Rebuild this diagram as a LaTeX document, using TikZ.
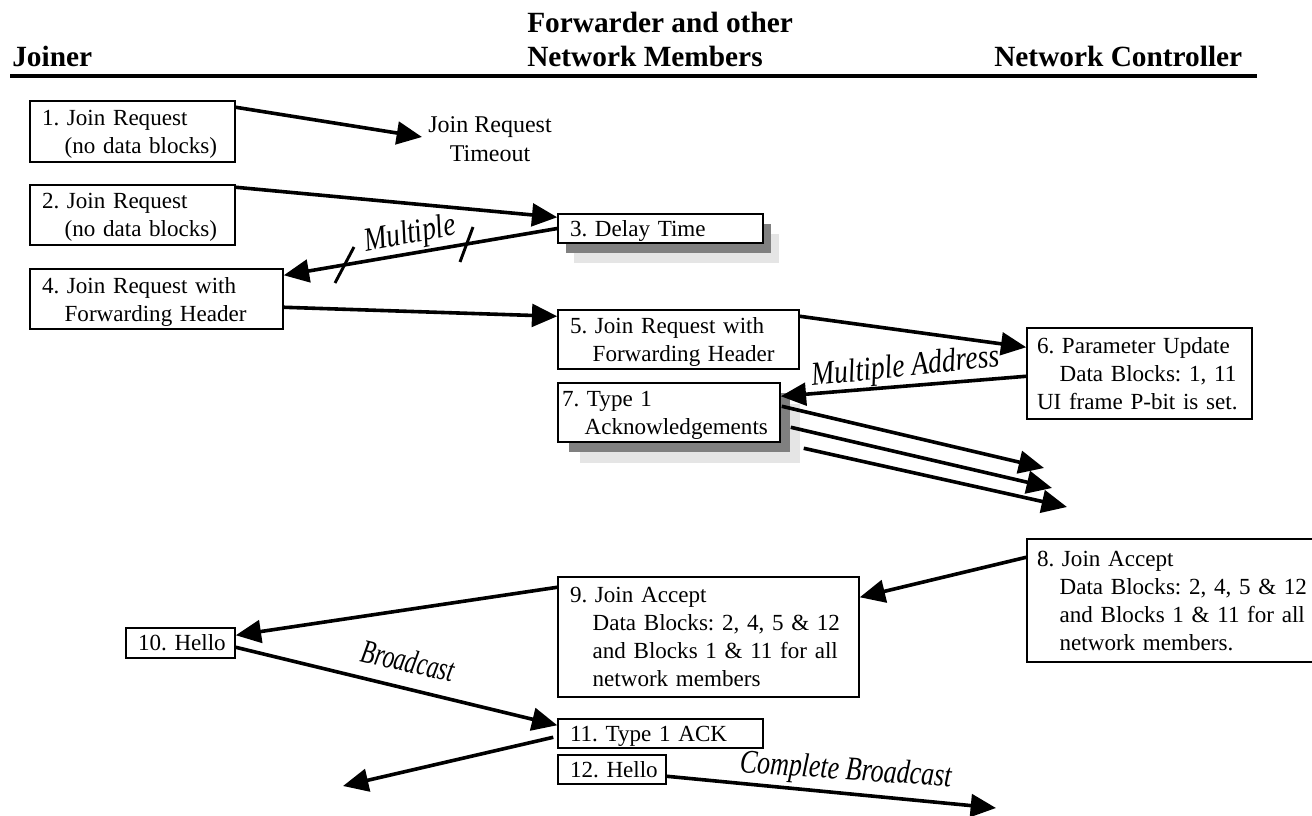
\documentclass[tikz,border=0pt]{standalone}
\usepackage{fontspec}
\setmainfont{Liberation Serif}
\usetikzlibrary{arrows.meta,calc}
\newcommand{\nodp}[1]{\raisebox{0pt}[\height][0pt]{#1}}
\newcommand{\pl}[1]{\mbox{#1}}
\newcommand{\pz}[1]{\mbox{\nodp{#1}}}
\newcommand{\il}[1]{\mbox{\hspace*{17pt}#1}}
\newcommand{\iz}[1]{\mbox{\hspace*{17pt}\nodp{#1}}}
\begin{document}
\frenchspacing
\begin{tikzpicture}[x=0.75pt,y=-0.75pt,
  bx/.style={draw, line width=1.1pt, fill=white, rectangle, align=left, inner ysep=0pt,
     font=\fontsize{17.3pt}{21pt}\selectfont\frenchspacing},
  arr/.style={line width=2.7pt, line cap=butt, -{Triangle[length=19pt,width=17pt]}},
  slash/.style={line width=2.2pt},
  hdr/.style={font=\fontsize{22pt}{25.5pt}\selectfont\bfseries, inner sep=0pt, align=left},
  lbl/.style={font=\fontsize{25pt}{30pt}\selectfont\itshape, inner sep=0pt},
  plain/.style={font=\fontsize{18pt}{21.75pt}\selectfont, inner sep=0pt, align=center},
  darkshadow/.style={fill=black!50},
  lightshadow/.style={fill=black!10}]
\useasboundingbox (0,0) rectangle (1312,816);
\clip (0,0) rectangle (1312,816);
\fill[white] (0,0) rectangle (1312,816);

% headers
\node[hdr, anchor=base west] (hj) at (12,67) {Joiner};
\node[hdr, anchor=south west] (hf) at (527,67) {Forwarder and other\\Network Members};
\node[hdr, anchor=base west] (hc) at (994,67) {Network Controller};
\draw[line width=3pt] (10,76) -- (1257,76);

% shadows
\fill[lightshadow] (574,234) rectangle (779,263);
\fill[darkshadow] (566,224) rectangle (771,253);
\fill[lightshadow] (580,404) rectangle (800,463);
\fill[darkshadow] (569,393) rectangle (790,452);

% boxes
\node[bx, minimum width=153.75pt, minimum height=45.75pt, text width=135.75pt, inner xsep=9pt] (b1) at (132.5,131.5)
  {\pl{1. Join Request}\\\iz{(no data blocks)}};
\node[bx, minimum width=153.75pt, minimum height=45pt, text width=135.75pt, inner xsep=9pt] (b2) at (132.5,215)
  {\pl{2. Join Request}\\\iz{(no data blocks)}};
\node[bx, minimum width=153.75pt, minimum height=21.75pt, text width=135.75pt, inner xsep=9pt] (b3) at (660.5,228.5)
  {\pz{3. Delay Time}};
\node[bx, minimum width=189.75pt, minimum height=45pt, text width=171.75pt, inner xsep=9pt] (b4) at (156.5,299)
  {\pl{4. Join Request with}\\\iz{Forwarding Header}};
\node[bx, minimum width=180.75pt, minimum height=44.25pt, text width=162.75pt, inner xsep=9pt] (b5) at (678.5,339.5)
  {\pl{5. Join Request with}\\\iz{Forwarding Header}};
\node[bx, minimum width=168.75pt, minimum height=68.25pt, text width=153.75pt, inner xsep=7.5pt] (b6) at (1139.5,373.5)
  {\pl{6. Parameter Update}\\\il{Data Blocks: 1, 11}\\\pl{UI frame P-bit is set.}};
\node[bx, minimum width=166.5pt, minimum height=44.25pt, text width=160.5pt, inner xsep=3pt] (b7) at (669,412.5)
  {\pl{7. Type 1}\\\iz{Acknowledgements}};
\node[bx, minimum width=219.75pt, minimum height=92.25pt, text width=204.75pt, inner xsep=7.5pt] (b8) at (1173.5,600.5)
  {\pl{8. Join Accept}\\\il{Data Blocks: 2, 4, 5 \& 12}\\\il{and Blocks 1 \& 11 for all}\\\il{network members.}};
\node[bx, minimum width=225.75pt, minimum height=90pt, text width=207.75pt, inner xsep=9pt] (b9) at (708.5,637)
  {\pl{9. Join Accept}\\\il{Data Blocks: 2, 4, 5 \& 12}\\\il{and Blocks 1 \& 11 for all}\\\il{network members}};
\node[bx, minimum width=81.75pt, minimum height=22.5pt, text width=63.75pt, inner xsep=9pt] (b10) at (180.5,643)
  {\pl{10. Hello}};
\node[bx, minimum width=153.75pt, minimum height=21.75pt, text width=135.75pt, inner xsep=9pt] (b11) at (660.5,733.5)
  {\pz{11. Type 1 ACK}};
\node[bx, minimum width=81pt, minimum height=21.75pt, text width=63pt, inner xsep=9pt] (b12) at (612,769.5)
  {\pl{12. Hello}};

% plain label
\node[plain, anchor=south] (to) at (490,162) {Join Request\\Timeout};

% italic labels
\node[lbl, anchor=base west, rotate=11] (lm) at (366,252) {\scalebox{0.82}[1]{Multiple}};
\node[lbl, anchor=base west, rotate=6] (lma) at (812,386) {\scalebox{0.83}[1]{Multiple Address}};
\node[lbl, anchor=base west, rotate=-13] (lb) at (359,661) {\scalebox{0.70}[1]{Broadcast}};
\node[lbl, anchor=base west, rotate=-4] (lcb) at (739,772) {\scalebox{0.78}[1]{Complete Broadcast}};

% free ends
\coordinate (t1) at (422,137);
\coordinate (t7a) at (1044,468);
\coordinate (t7b) at (1052,488);
\coordinate (t7c) at (1067,507);
\coordinate (t11) at (343,786);
\coordinate (t12) at (996,808);

% connectors
\draw[arr] ($(b1.north east)+(0,7)$) -- (t1);
\draw[arr] ($(b2.north east)+(0,3)$) -- ($(b3.north west)+(0,4)$);
\draw[arr] (b3.west) -- ($(b4.north east)+(0,7)$);
\draw[slash] (335,283) -- (354,247);
\draw[slash] (460,262) -- (473,227);
\draw[arr] ($(b4.north east)+(0,39)$) -- ($(b5.north west)+(0,7)$);
\draw[arr] ($(b5.north east)+(0,7)$) -- ($(b6.north west)+(0,20)$);
\draw[arr] ($(b6.north west)+(0,49)$) -- ($(b7.north east)+(0,14)$);
\draw[arr] ($(b7.north east)+(1,24)$) -- (t7a);
\draw[arr] ($(b7.north east)+(10,45)$) -- (t7b);
\draw[arr] ($(b7.north east)+(23,66)$) -- (t7c);
\draw[arr] ($(b8.north west)+(0,19)$) -- ($(b9.north east)+(0,21)$);
\draw[arr] ($(b9.north west)+(0,11)$) -- ($(b10.north east)+(0,8)$);
\draw[arr] ($(b10.north east)+(0,20)$) -- ($(b11.north west)+(0,7)$);
\draw[arr] ($(b11.north west)+(-4,19)$) -- (t11);
\draw[arr] ($(b12.north east)+(0,22)$) -- (t12);
\end{tikzpicture}
\end{document}
